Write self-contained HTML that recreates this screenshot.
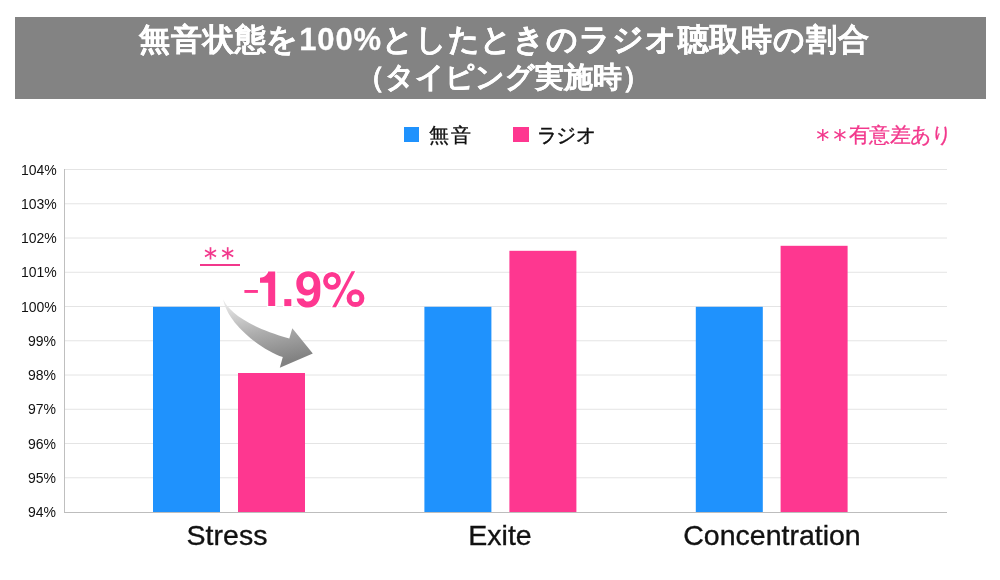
<!DOCTYPE html>
<html><head><meta charset="utf-8">
<style>.yl,.xl,.leg,#t1,#t2{will-change:transform;}
html,body{margin:0;padding:0;background:#fff;}
body{width:1000px;height:580px;position:relative;overflow:hidden;font-family:"Liberation Sans",sans-serif;}
.abs{position:absolute;white-space:nowrap;}
#hdr{left:14.5px;top:17px;width:971.5px;height:81.6px;background:#838383;}
#t1{left:139px;top:20px;color:#fff;font-weight:bold;font-size:31px;line-height:40px;letter-spacing:0.85px;-webkit-text-stroke:0.3px #fff;}
#t2{left:2.5px;width:1000px;top:59px;text-align:center;color:#fff;font-weight:bold;font-size:29px;line-height:36px;-webkit-text-stroke:0.3px #fff;}
.yl{position:absolute;right:943.5px;font-size:14px;color:#111;line-height:16px;}
.xl{position:absolute;font-size:28.5px;color:#111;-webkit-text-stroke:0.35px #111;line-height:30px;text-align:center;width:300px;}
.leg{position:absolute;font-size:20px;line-height:24px;color:#111;-webkit-text-stroke:0.35px #111;}
</style></head><body>
<div id="hdr" class="abs"></div>
<div id="t1" class="abs">無音状態を100%としたときのラジオ聴取時の割合</div>
<div id="t2" class="abs">（タイピング実施時）</div>

<div class="abs" style="left:404px;top:127px;width:15px;height:15px;background:#1f92fd"></div>
<div class="leg" style="left:428.5px;top:123px;letter-spacing:1.5px">無音</div>
<div class="abs" style="left:513px;top:127px;width:15.5px;height:15px;background:#fe3790"></div>
<div class="leg" style="left:537px;top:123px;letter-spacing:-0.6px">ラジオ</div>
<div class="leg" style="left:848.5px;top:122.5px;color:#f2388c;font-size:20.5px;letter-spacing:-0.65px;-webkit-text-stroke:0.3px #f2388c">有意差あり</div>

<svg class="abs" style="left:0;top:0" width="1000" height="580" viewBox="0 0 1000 580">
  <g stroke="#e4e4e4" stroke-width="1">
    <line x1="65" x2="947" y1="169.5" y2="169.5"/>
    <line x1="65" x2="947" y1="203.75" y2="203.75"/>
    <line x1="65" x2="947" y1="238" y2="238"/>
    <line x1="65" x2="947" y1="272.25" y2="272.25"/>
    <line x1="65" x2="947" y1="306.5" y2="306.5"/>
    <line x1="65" x2="947" y1="340.75" y2="340.75"/>
    <line x1="65" x2="947" y1="375" y2="375"/>
    <line x1="65" x2="947" y1="409.25" y2="409.25"/>
    <line x1="65" x2="947" y1="443.5" y2="443.5"/>
    <line x1="65" x2="947" y1="477.75" y2="477.75"/>
  </g>
  <g fill="#1f92fd">
    <rect x="153" y="306.8" width="67" height="205.5"/>
    <rect x="424.4" y="306.8" width="67" height="205.5"/>
    <rect x="695.8" y="306.8" width="67" height="205.5"/>
  </g>
  <g fill="#fe3790">
    <rect x="238" y="373" width="67" height="139"/>
    <rect x="509.4" y="250.8" width="67" height="261.2"/>
    <rect x="780.6" y="245.8" width="67" height="266.2"/>
  </g>
  <line x1="64.5" x2="64.5" y1="169" y2="512.5" stroke="#bfbfbf" stroke-width="1"/>
  <line x1="64" x2="947" y1="512.5" y2="512.5" stroke="#bdbdbd" stroke-width="1"/>
  <defs>
    <linearGradient id="ag" gradientUnits="userSpaceOnUse" x1="248" y1="300" x2="262" y2="366">
      <stop offset="0" stop-color="#e6e6e6"/>
      <stop offset="0.5" stop-color="#aeaeae"/>
      <stop offset="1" stop-color="#828282"/>
    </linearGradient>
  </defs>
  <path d="M223.2 299.6 C229 312 248 327 289.3 338.5 L292.3 328.2 L312.8 353.6 L279.8 367.8 L282.8 357.1 C262 350 228 325 223.2 299.6 Z" fill="url(#ag)"/>
  <!-- asterisks -->
  <g stroke="#f2388c" stroke-width="1.7" stroke-linecap="butt">
    <line x1="210.5" y1="247.2" x2="210.5" y2="259.5"/>
    <line x1="205" y1="250.2" x2="216" y2="256.4"/>
    <line x1="205" y1="256.4" x2="216" y2="250.2"/>
    <line x1="227.7" y1="247.2" x2="227.7" y2="259.5"/>
    <line x1="222.2" y1="250.2" x2="233.2" y2="256.4"/>
    <line x1="222.2" y1="256.4" x2="233.2" y2="250.2"/>
  </g>
  <rect x="200" y="264" width="40" height="2" fill="#f2388c"/>
  <g stroke="#f2388c" stroke-width="1.5">
    <line x1="822.8" y1="129" x2="822.8" y2="141"/>
    <line x1="817.3" y1="131.6" x2="828.3" y2="138.2"/>
    <line x1="817.3" y1="138.2" x2="828.3" y2="131.6"/>
    <line x1="839.9" y1="129" x2="839.9" y2="141"/>
    <line x1="834.4" y1="131.6" x2="845.4" y2="138.2"/>
    <line x1="834.4" y1="138.2" x2="845.4" y2="131.6"/>
  </g>
  <g id="big">
  <g stroke="#fff" stroke-width="3" fill="#fff" stroke-linejoin="round">
    <rect x="244.4" y="290" width="13.5" height="2.9"/>
    <path d="M268.2 271.6 L275.2 271.6 L275.2 306.1 L268.2 306.1 L268.2 282.8 L260 282.8 L260 277.8 C264 277.6 267.2 275.5 268.2 271.6 Z"/>
    <rect x="284.3" y="299.1" width="7" height="7"/>
    <path d="M308.3 271.3 C315.5 271.3 320.3 276.5 320.3 285 L320.3 292 C320.3 302 315.5 307.5 308.3 307.5 C301.5 307.5 297.3 303.8 296.7 298.4 L303.6 298.4 C304.3 300.3 305.8 301.5 308.2 301.5 C312 301.5 313.8 298 313.9 292 C312.3 294.3 309.8 295.5 306.8 295.5 C300.5 295.5 296.3 290.5 296.3 283.5 C296.3 276.3 301.3 271.3 308.3 271.3 Z"/>
    <circle cx="332" cy="280.9" r="8.9"/>
    <circle cx="355.5" cy="298.2" r="8.9"/>
    <path d="M351.5 271.2 L355.2 271.2 L336 307.3 L332.1 307.3 Z"/>
  </g>
  <g fill="#fe3790">
    <rect x="244.4" y="290" width="13.5" height="2.9"/>
    <path d="M268.2 271.6 L275.2 271.6 L275.2 306.1 L268.2 306.1 L268.2 282.8 L260 282.8 L260 277.8 C264 277.6 267.2 275.5 268.2 271.6 Z"/>
    <rect x="284.3" y="299.1" width="7" height="7"/>
    <path fill-rule="evenodd" d="M308.3 271.3 C315.5 271.3 320.3 276.5 320.3 285 L320.3 292 C320.3 302 315.5 307.5 308.3 307.5 C301.5 307.5 297.3 303.8 296.7 298.4 L303.6 298.4 C304.3 300.3 305.8 301.5 308.2 301.5 C312 301.5 313.8 298 313.9 292 C312.3 294.3 309.8 295.5 306.8 295.5 C300.5 295.5 296.3 290.5 296.3 283.5 C296.3 276.3 301.3 271.3 308.3 271.3 Z M308.3 276.7 C305 276.7 302.9 279.5 302.9 283.2 C302.9 287 305 289.7 308.3 289.7 C311.6 289.7 313.7 287 313.7 283.2 C313.7 279.5 311.6 276.7 308.3 276.7 Z"/>
    <circle cx="332" cy="280.9" r="6.55" fill="none" stroke="#fe3790" stroke-width="4.7"/>
    <circle cx="355.5" cy="298.2" r="6.4" fill="none" stroke="#fe3790" stroke-width="5"/>
    <path d="M351.5 271.2 L355.2 271.2 L336 307.3 L332.1 307.3 Z"/>
  </g>
  </g>
</svg>

<div class="yl" style="top:161.5px">104%</div>
<div class="yl" style="top:195.75px">103%</div>
<div class="yl" style="top:230px">102%</div>
<div class="yl" style="top:264.25px">101%</div>
<div class="yl" style="top:298.5px">100%</div>
<div class="yl" style="top:332.75px">99%</div>
<div class="yl" style="top:367px">98%</div>
<div class="yl" style="top:401.25px">97%</div>
<div class="yl" style="top:435.5px">96%</div>
<div class="yl" style="top:469.75px">95%</div>
<div class="yl" style="top:504px">94%</div>

<div class="xl" style="left:77px;top:520px">Stress</div>
<div class="xl" style="left:350px;top:520px">Exite</div>
<div class="xl" style="left:622px;top:520px">Concentration</div>
</body></html>
